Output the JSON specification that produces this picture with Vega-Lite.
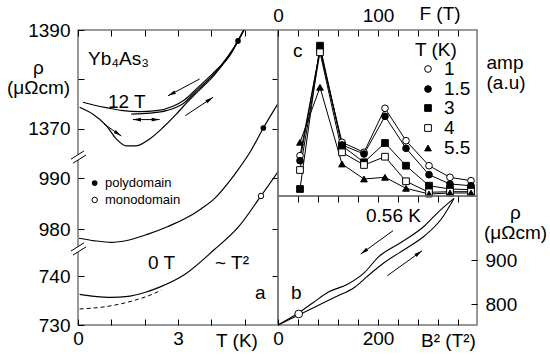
{
 "$schema": "https://vega.github.io/schema/vega-lite/v6.json",
 "autosize": {"type": "pad"},
 "padding": {"left": 5, "top": 3, "right": 0, "bottom": 0},
 "background": "white",
 "config": {
  "font": "Liberation Sans",
  "view": {"stroke": "#777", "strokeWidth": 1.5},
  "axis": {"grid": false, "domain": false, "tickColor": "black", "tickSize": -6, "tickWidth": 1, "labelFont": "Liberation Sans", "labelFontSize": 19, "labelColor": "black", "labelFlush": false, "labelOverlap": false, "titleFont": "Liberation Sans", "titleFontSize": 19, "titleFontWeight": "normal", "titleColor": "black", "titleAngle": 0}
 },
 "datasets": {
  "t12": [
   {"s":"c","T":0.15,"rho":1375.4},{"s":"c","T":0.5,"rho":1374.8},{"s":"c","T":0.85,"rho":1374.3},{"s":"c","T":1.35,"rho":1373.7},{"s":"c","T":1.85,"rho":1373.5},{"s":"c","T":2.35,"rho":1373.7},{"s":"c","T":2.85,"rho":1374.6},{"s":"c","T":3.2,"rho":1375.9},{"s":"c","T":3.6,"rho":1378.4},{"s":"c","T":4.1,"rho":1381.6},{"s":"c","T":4.59,"rho":1385.2},{"s":"c","T":4.8,"rho":1387.9},{"s":"c","T":5.0,"rho":1390.3},
   {"s":"w","T":0.05,"rho":1374.4},{"s":"w","T":0.45,"rho":1373.0},{"s":"w","T":0.85,"rho":1370.7},{"s":"w","T":1.15,"rho":1368.0},{"s":"w","T":1.45,"rho":1366.6},{"s":"w","T":1.75,"rho":1366.6},{"s":"w","T":2.15,"rho":1368.0},{"s":"w","T":2.55,"rho":1370.3},{"s":"w","T":2.95,"rho":1373.0},{"s":"w","T":3.15,"rho":1374.5},{"s":"w","T":3.6,"rho":1377.6},{"s":"w","T":4.1,"rho":1381.0},{"s":"w","T":4.8,"rho":1387.7},{"s":"w","T":5.0,"rho":1390.3},
   {"s":"m","T":1.6,"rho":1373.0},{"s":"m","T":2.15,"rho":1373.2},{"s":"m","T":2.65,"rho":1373.7},{"s":"m","T":3.15,"rho":1375.1},{"s":"m","T":3.6,"rho":1378.0},{"s":"m","T":4.1,"rho":1381.3},{"s":"m","T":4.8,"rho":1387.8},{"s":"m","T":5.0,"rho":1390.3}
  ],
  "amp": [
   {"Tk":"1","F":22,"amp":40.3},{"Tk":"1","F":42,"amp":146},{"Tk":"1","F":64,"amp":53.7},{"Tk":"1","F":86,"amp":43.7},{"Tk":"1","F":107,"amp":87.7},{"Tk":"1","F":128,"amp":55.3},{"Tk":"1","F":151,"amp":30.3},{"Tk":"1","F":172,"amp":18.7},{"Tk":"1","F":193,"amp":15.3},
   {"Tk":"1.5","F":22,"amp":35.3},{"Tk":"1.5","F":42,"amp":147},{"Tk":"1.5","F":64,"amp":51},{"Tk":"1.5","F":86,"amp":42},{"Tk":"1.5","F":107,"amp":79.7},{"Tk":"1.5","F":128,"amp":47.7},{"Tk":"1.5","F":151,"amp":21.3},{"Tk":"1.5","F":172,"amp":12},{"Tk":"1.5","F":193,"amp":10.3},
   {"Tk":"3","F":22,"amp":7},{"Tk":"3","F":42,"amp":150.3},{"Tk":"3","F":64,"amp":50.3},{"Tk":"3","F":86,"amp":33.7},{"Tk":"3","F":107,"amp":53},{"Tk":"3","F":128,"amp":30.3},{"Tk":"3","F":151,"amp":10.3},{"Tk":"3","F":172,"amp":7},{"Tk":"3","F":193,"amp":6.3},
   {"Tk":"4","F":22,"amp":26},{"Tk":"4","F":42,"amp":143.7},{"Tk":"4","F":64,"amp":43.7},{"Tk":"4","F":86,"amp":31},{"Tk":"4","F":107,"amp":39.3},{"Tk":"4","F":128,"amp":14.7},{"Tk":"4","F":151,"amp":3.7},{"Tk":"4","F":172,"amp":4.3},{"Tk":"4","F":193,"amp":4.3},
   {"Tk":"5.5","F":22,"amp":53.7},{"Tk":"5.5","F":42,"amp":108.7},{"Tk":"5.5","F":64,"amp":32},{"Tk":"5.5","F":86,"amp":17},{"Tk":"5.5","F":107,"amp":18.7},{"Tk":"5.5","F":128,"amp":7.7},{"Tk":"5.5","F":151,"amp":2},{"Tk":"5.5","F":172,"amp":3},{"Tk":"5.5","F":193,"amp":3}
  ],
  "ampkey": [
   {"Tk":"1","F":150,"amp":127},{"Tk":"1.5","F":150,"amp":107},{"Tk":"3","F":150,"amp":88},{"Tk":"4","F":150,"amp":68},{"Tk":"5.5","F":150,"amp":48}
  ],
  "loop": [
   {"s":"dn","B2":0,"rho":752.3},{"s":"dn","B2":41.4,"rho":780},{"s":"dn","B2":70,"rho":803},{"s":"dn","B2":100,"rho":826.6},{"s":"dn","B2":140,"rho":845.5},{"s":"dn","B2":173.4,"rho":872},{"s":"dn","B2":200,"rho":906},{"s":"dn","B2":246.6,"rho":940.2},{"s":"dn","B2":293.4,"rho":977.9},{"s":"dn","B2":320,"rho":1008.4},{"s":"dn","B2":352,"rho":1040},
   {"s":"up","B2":0,"rho":752.3},{"s":"up","B2":41.4,"rho":775},{"s":"up","B2":113.4,"rho":815.2},{"s":"up","B2":153.4,"rho":838},{"s":"up","B2":180,"rho":864.3},{"s":"up","B2":213.4,"rho":894.8},{"s":"up","B2":260,"rho":928.9},{"s":"up","B2":293.4,"rho":955.2},{"s":"up","B2":326.6,"rho":993.2},{"s":"up","B2":352,"rho":1040}
  ]
 },
 "spacing": 0,
 "bounds": "flush",
 "resolve": {"scale": {"shape": "independent", "fill": "independent", "stroke": "independent"}},
 "hconcat": [
  {
   "width": 200,
   "height": 295,
   "layer": [
    {
     "encoding": {
      "x": {"field": "T", "type": "quantitative", "scale": {"domain": [0, 6], "nice": false, "zero": false}, "axis": {"orient": "bottom", "values": [0,1,2,3,4,5,6], "labelExpr": "datum.value==0||datum.value==3?datum.label:''", "labelPadding": 10, "title": "T (K)", "titleX": 158.5, "titleY": 21, "titleAlign": "center", "titleBaseline": "alphabetic", "titleAngle": 0}},
      "y": {"field": "rho", "type": "quantitative", "scale": {"domain": [1330.4, 1390], "nice": false, "zero": false}, "axis": {"orient": "left", "values": [1370,1380,1390], "format": "d", "labelExpr": "datum.value==1380?'':datum.label", "labelPadding": 14, "title": ["ρ", "(μΩcm)"], "titleX": -40, "titleY": 43, "titleAlign": "center", "titleBaseline": "alphabetic", "titleAngle": 0, "titleLineHeight": 20}}
     },
     "layer": [
      {"data": {"name": "t12"}, "mark": {"type": "line", "interpolate": "monotone", "clip": true, "color": "black", "strokeWidth": 1.2}, "encoding": {"detail": {"field": "s", "type": "nominal"}}},
      {"data": {"values": [{"T": 4.8, "rho": 1387.8}]}, "mark": {"type": "point", "filled": true, "color": "black", "size": 32, "opacity": 1}},
      {"data": {"values": [{"T":3.65,"rho":1380.1,"T2":2.7,"rho2":1376.7},{"T":3.22,"rho":1372.7,"T2":4.05,"rho2":1376.4},{"T":0.78,"rho":1371.0,"T2":1.3,"rho2":1368.6},{"T":1.65,"rho":1371.9,"T2":2.45,"rho2":1371.9}]}, "mark": {"type": "rule", "color": "black", "strokeWidth": 1}, "encoding": {"x2": {"field": "T2"}, "y2": {"field": "rho2"}}},
      {"data": {"values": [{"T": 2.7, "rho": 1376.7}]}, "mark": {"type": "point", "shape": "M0,0L-0.45,2L0.45,2Z", "filled": true, "color": "black", "size": 64, "opacity": 1, "angle": 242}},
      {"data": {"values": [{"T": 4.05, "rho": 1376.4}]}, "mark": {"type": "point", "shape": "M0,0L-0.45,2L0.45,2Z", "filled": true, "color": "black", "size": 64, "opacity": 1, "angle": 56}},
      {"data": {"values": [{"T": 1.3, "rho": 1368.6}]}, "mark": {"type": "point", "shape": "M0,0L-0.45,2L0.45,2Z", "filled": true, "color": "black", "size": 64, "opacity": 1, "angle": 124}},
      {"data": {"values": [{"T": 1.65, "rho": 1371.9}]}, "mark": {"type": "point", "shape": "M0,0L-0.45,2L0.45,2Z", "filled": true, "color": "black", "size": 64, "opacity": 1, "angle": 270}},
      {"data": {"values": [{"T": 2.45, "rho": 1371.9}]}, "mark": {"type": "point", "shape": "M0,0L-0.45,2L0.45,2Z", "filled": true, "color": "black", "size": 64, "opacity": 1, "angle": 90}},
      {"data": {"values": [{"T": 0.3, "rho": 1382.9, "label": "Yb₄As₃"}, {"T": 0.9, "rho": 1374.3, "label": "12 T"}]}, "mark": {"type": "text", "align": "left", "baseline": "alphabetic", "fontSize": 19, "color": "black"}, "encoding": {"text": {"field": "label", "type": "nominal"}}}
     ]
    },
    {
     "data": {"values": [{"T": 0, "rho": 1380}]},
     "mark": {"type": "point", "opacity": 0},
     "encoding": {
      "x": {"field": "T", "type": "quantitative", "scale": {"domain": [0, 6], "nice": false, "zero": false}, "axis": null},
      "y": {"field": "rho", "type": "quantitative", "scale": {"domain": [1330.4, 1390], "nice": false, "zero": false}, "axis": {"orient": "right", "values": [1370, 1380], "labels": false, "title": null}}
     }
    },
    {
     "encoding": {
      "x": {"field": "T", "type": "quantitative", "scale": {"domain": [0, 6], "nice": false, "zero": false}, "axis": {"orient": "top", "values": [0,1,2,3,4,5,6], "labels": false, "title": null}},
      "y": {"field": "rho", "type": "quantitative", "scale": {"domain": [961.2, 1019.0], "nice": false, "zero": false}, "axis": {"orient": "left", "values": [980, 990], "labelPadding": 14, "title": null}}
     },
     "layer": [
      {"data": {"values": [{"T":0.03,"rho":978.2},{"T":0.5,"rho":977.7},{"T":1.0,"rho":977.4},{"T":1.5,"rho":977.8},{"T":2.1,"rho":979.0},{"T":2.7,"rho":980.5},{"T":3.2,"rho":982.0},{"T":3.7,"rho":984.0},{"T":4.1,"rho":986.0},{"T":4.5,"rho":989.0},{"T":4.8,"rho":991.6},{"T":5.2,"rho":995.5},{"T":5.56,"rho":999.8},{"T":6.0,"rho":1004.6}]}, "mark": {"type": "line", "interpolate": "monotone", "clip": true, "color": "black", "strokeWidth": 1.2}},
      {"data": {"values": [{"T": 5.56, "rho": 999.8}, {"T": 0.5, "rho": 989.0}]}, "mark": {"type": "point", "filled": true, "color": "black", "size": 32, "opacity": 1}},
      {"data": {"values": [{"T": 0.5, "rho": 985.7}]}, "mark": {"type": "point", "shape": "circle", "fill": "white", "stroke": "black", "strokeWidth": 1, "size": 30, "opacity": 1}},
      {"data": {"values": [{"T": 0.81, "rho": 989.0, "label": "polydomain"}, {"T": 0.81, "rho": 985.7, "label": "monodomain"}]}, "mark": {"type": "text", "align": "left", "baseline": "middle", "fontSize": 13, "color": "black"}, "encoding": {"text": {"field": "label", "type": "nominal"}}},
      {"data": {"values": [{"T": 0, "rho": 993.5, "T2": 0, "rho2": 994.56}, {"T": 0, "rho": 975.5, "T2": 0, "rho2": 976.56}]}, "mark": {"type": "rule", "color": "white", "strokeWidth": 4, "clip": false}, "encoding": {"x2": {"field": "T2"}, "y2": {"field": "rho2"}}},
      {"data": {"values": [{"T": -0.21, "rho": 993.7, "T2": 0.18, "rho2": 995.3}, {"T": -0.15, "rho": 992.9, "T2": 0.24, "rho2": 994.5}, {"T": -0.21, "rho": 975.7, "T2": 0.18, "rho2": 977.3}, {"T": -0.15, "rho": 974.9, "T2": 0.24, "rho2": 976.5}]}, "mark": {"type": "rule", "color": "black", "strokeWidth": 1, "clip": false}, "encoding": {"x2": {"field": "T2"}, "y2": {"field": "rho2"}}}
     ]
    },
    {
     "data": {"values": [{"T": 0, "rho": 985}]},
     "mark": {"type": "point", "opacity": 0},
     "encoding": {
      "x": {"field": "T", "type": "quantitative", "scale": {"domain": [0, 6], "nice": false, "zero": false}, "axis": null},
      "y": {"field": "rho", "type": "quantitative", "scale": {"domain": [961.2, 1019.0], "nice": false, "zero": false}, "axis": {"orient": "right", "values": [980, 990], "labels": false, "title": null}}
     }
    },
    {
     "encoding": {
      "x": {"field": "T", "type": "quantitative", "scale": {"domain": [0, 6], "nice": false, "zero": false}, "axis": null},
      "y": {"field": "rho", "type": "quantitative", "scale": {"domain": [730, 790.8], "nice": false, "zero": false}, "axis": {"orient": "left", "values": [730, 740], "labelPadding": 14, "title": null}}
     },
     "layer": [
      {"data": {"values": [{"T":0.05,"rho":736.3},{"T":0.5,"rho":735.9},{"T":1.0,"rho":735.7},{"T":1.5,"rho":735.9},{"T":2.0,"rho":736.7},{"T":2.45,"rho":737.8},{"T":3.2,"rho":740.4},{"T":4.1,"rho":745.6},{"T":4.8,"rho":750.1},{"T":5.49,"rho":756.6},{"T":6.0,"rho":761.6}]}, "mark": {"type": "line", "interpolate": "monotone", "clip": true, "color": "black", "strokeWidth": 1.2}},
      {"data": {"values": [{"T":0.05,"rho":733.3},{"T":0.85,"rho":733.8},{"T":1.65,"rho":735.0},{"T":2.25,"rho":736.4},{"T":2.5,"rho":737.2}]}, "mark": {"type": "line", "interpolate": "monotone", "clip": true, "color": "black", "strokeWidth": 1, "strokeDash": [4, 3]}},
      {"data": {"values": [{"T": 5.49, "rho": 756.6}]}, "mark": {"type": "point", "shape": "circle", "fill": "white", "stroke": "black", "strokeWidth": 1, "size": 30, "opacity": 1}},
      {"data": {"values": [{"T": 2.1, "rho": 741.5, "label": "0 T"}, {"T": 4.11, "rho": 741.5, "label": "~ T²"}, {"T": 5.31, "rho": 735.4, "label": "a"}]}, "mark": {"type": "text", "align": "left", "baseline": "alphabetic", "fontSize": 19, "color": "black"}, "encoding": {"text": {"field": "label", "type": "nominal"}}}
     ]
    },
    {
     "data": {"values": [{"T": 0, "rho": 740}]},
     "mark": {"type": "point", "opacity": 0},
     "encoding": {
      "x": {"field": "T", "type": "quantitative", "scale": {"domain": [0, 6], "nice": false, "zero": false}, "axis": null},
      "y": {"field": "rho", "type": "quantitative", "scale": {"domain": [730, 790.8], "nice": false, "zero": false}, "axis": {"orient": "right", "values": [740], "labels": false, "title": null}}
     }
    }
   ],
   "resolve": {"scale": {"y": "independent"}, "axis": {"x": "independent", "y": "independent"}}
  },
  {
   "spacing": 0,
   "bounds": "flush",
   "resolve": {"scale": {"shape": "independent", "fill": "independent", "stroke": "independent"}},
   "vconcat": [
    {
     "width": 199,
     "height": 166,
     "encoding": {
      "x": {"field": "F", "type": "quantitative", "scale": {"domain": [0, 199], "nice": false, "zero": false}, "axis": {"orient": "top", "values": [0,20,40,60,80,100,120,140,160,180], "labelExpr": "datum.value==0||datum.value==100?datum.label:''", "labelPadding": 11, "title": "F (T)", "titleX": 161.5, "titleY": -11, "titleAlign": "center", "titleBaseline": "alphabetic", "titleAngle": 0}},
      "y": {"field": "amp", "type": "quantitative", "scale": {"domain": [0, 166], "nice": false, "zero": false}, "axis": {"orient": "right", "ticks": false, "labels": false, "title": ["amp", "(a.u)"], "titleX": 9, "titleY": 38, "titleAlign": "left", "titleBaseline": "alphabetic", "titleAngle": 0, "titleLineHeight": 20}}
     },
     "layer": [
      {"data": {"name": "amp"}, "mark": {"type": "line", "color": "black", "strokeWidth": 1}, "encoding": {"detail": {"field": "Tk", "type": "nominal"}}},
      {"data": {"name": "amp"}, "mark": {"type": "point", "stroke": "black", "strokeWidth": 1, "size": 45, "opacity": 1},
       "encoding": {
        "shape": {"field": "Tk", "type": "nominal", "scale": {"domain": ["1","1.5","3","4","5.5"], "range": ["circle","circle","square","square","triangle-up"]}, "legend": null},
        "fill": {"field": "Tk", "type": "nominal", "scale": {"domain": ["1","1.5","3","4","5.5"], "range": ["white","black","black","white","black"]}, "legend": null}
       }},
      {"data": {"name": "ampkey"}, "mark": {"type": "point", "stroke": "black", "strokeWidth": 1, "size": 45, "opacity": 1},
       "encoding": {
        "shape": {"field": "Tk", "type": "nominal", "legend": null},
        "fill": {"field": "Tk", "type": "nominal", "legend": null}
       }},
      {"data": {"name": "ampkey"}, "mark": {"type": "text", "align": "left", "baseline": "middle", "fontSize": 19, "color": "black", "dx": 16}, "encoding": {"text": {"field": "Tk", "type": "nominal"}}},
      {"data": {"values": [{"F": 15, "amp": 139, "label": "c"}, {"F": 137, "amp": 140, "label": "T (K)"}]}, "mark": {"type": "text", "align": "left", "baseline": "alphabetic", "fontSize": 19, "color": "black"}, "encoding": {"text": {"field": "label", "type": "nominal"}}}
     ]
    },
    {
     "width": 199,
     "height": 129,
     "layer": [
      {
       "encoding": {
        "x": {"field": "B2", "type": "quantitative", "scale": {"domain": [0, 398], "nice": false, "zero": false}, "axis": {"orient": "bottom", "values": [0,40,80,120,160,200,240,280,320,360], "labelExpr": "datum.value==0||datum.value==200?datum.label:''", "labelPadding": 10, "title": "B² (T²)", "titleX": 170, "titleY": 21, "titleAlign": "center", "titleBaseline": "alphabetic", "titleAngle": 0}},
        "y": {"field": "rho", "type": "quantitative", "scale": {"domain": [752.3, 1045.5], "nice": false, "zero": false}, "axis": {"orient": "right", "values": [800, 900], "labelPadding": 14, "title": ["ρ", "(μΩcm)"], "titleX": 38, "titleY": 22, "titleAlign": "center", "titleBaseline": "alphabetic", "titleAngle": 0, "titleLineHeight": 20}}
       },
       "layer": [
        {"data": {"name": "loop"}, "mark": {"type": "line", "interpolate": "monotone", "clip": true, "color": "black", "strokeWidth": 1.1}, "encoding": {"detail": {"field": "s", "type": "nominal"}}},
        {"data": {"values": [{"B2": 41.4, "rho": 777.3}]}, "mark": {"type": "point", "shape": "circle", "fill": "white", "stroke": "black", "strokeWidth": 1, "size": 60, "opacity": 1}},
        {"data": {"values": [{"B2": 230, "rho": 966.6, "B22": 165.4, "rho2": 913.6}, {"B2": 218.6, "rho": 864.3, "B22": 288, "rho2": 920.9}]}, "mark": {"type": "rule", "color": "black", "strokeWidth": 1}, "encoding": {"x2": {"field": "B22"}, "y2": {"field": "rho2"}}},
        {"data": {"values": [{"B2": 165.4, "rho": 913.6}]}, "mark": {"type": "point", "shape": "M0,0L-0.45,2L0.45,2Z", "filled": true, "color": "black", "size": 64, "opacity": 1, "angle": 234}},
        {"data": {"values": [{"B2": 288, "rho": 920.9}]}, "mark": {"type": "point", "shape": "M0,0L-0.45,2L0.45,2Z", "filled": true, "color": "black", "size": 64, "opacity": 1, "angle": 54}},
        {"data": {"values": [{"B2": 26, "rho": 811.4, "label": "b"}, {"B2": 176, "rho": 986.4, "label": "0.56 K"}]}, "mark": {"type": "text", "align": "left", "baseline": "alphabetic", "fontSize": 19, "color": "black"}, "encoding": {"text": {"field": "label", "type": "nominal"}}}
       ]
      },
      {
       "data": {"values": [{"B2": 0, "rho": 800}]},
       "mark": {"type": "point", "opacity": 0},
       "encoding": {
        "x": {"field": "B2", "type": "quantitative", "scale": {"domain": [0, 398], "nice": false, "zero": false}, "axis": {"orient": "top", "values": [40,80,120,160,200,240,280,320,360], "labels": false, "title": null}},
        "y": {"field": "rho", "type": "quantitative", "scale": {"domain": [752.3, 1045.5], "nice": false, "zero": false}, "axis": null}
       }
      }
     ],
     "resolve": {"axis": {"x": "independent", "y": "independent"}}
    }
   ]
  }
 ]
}
